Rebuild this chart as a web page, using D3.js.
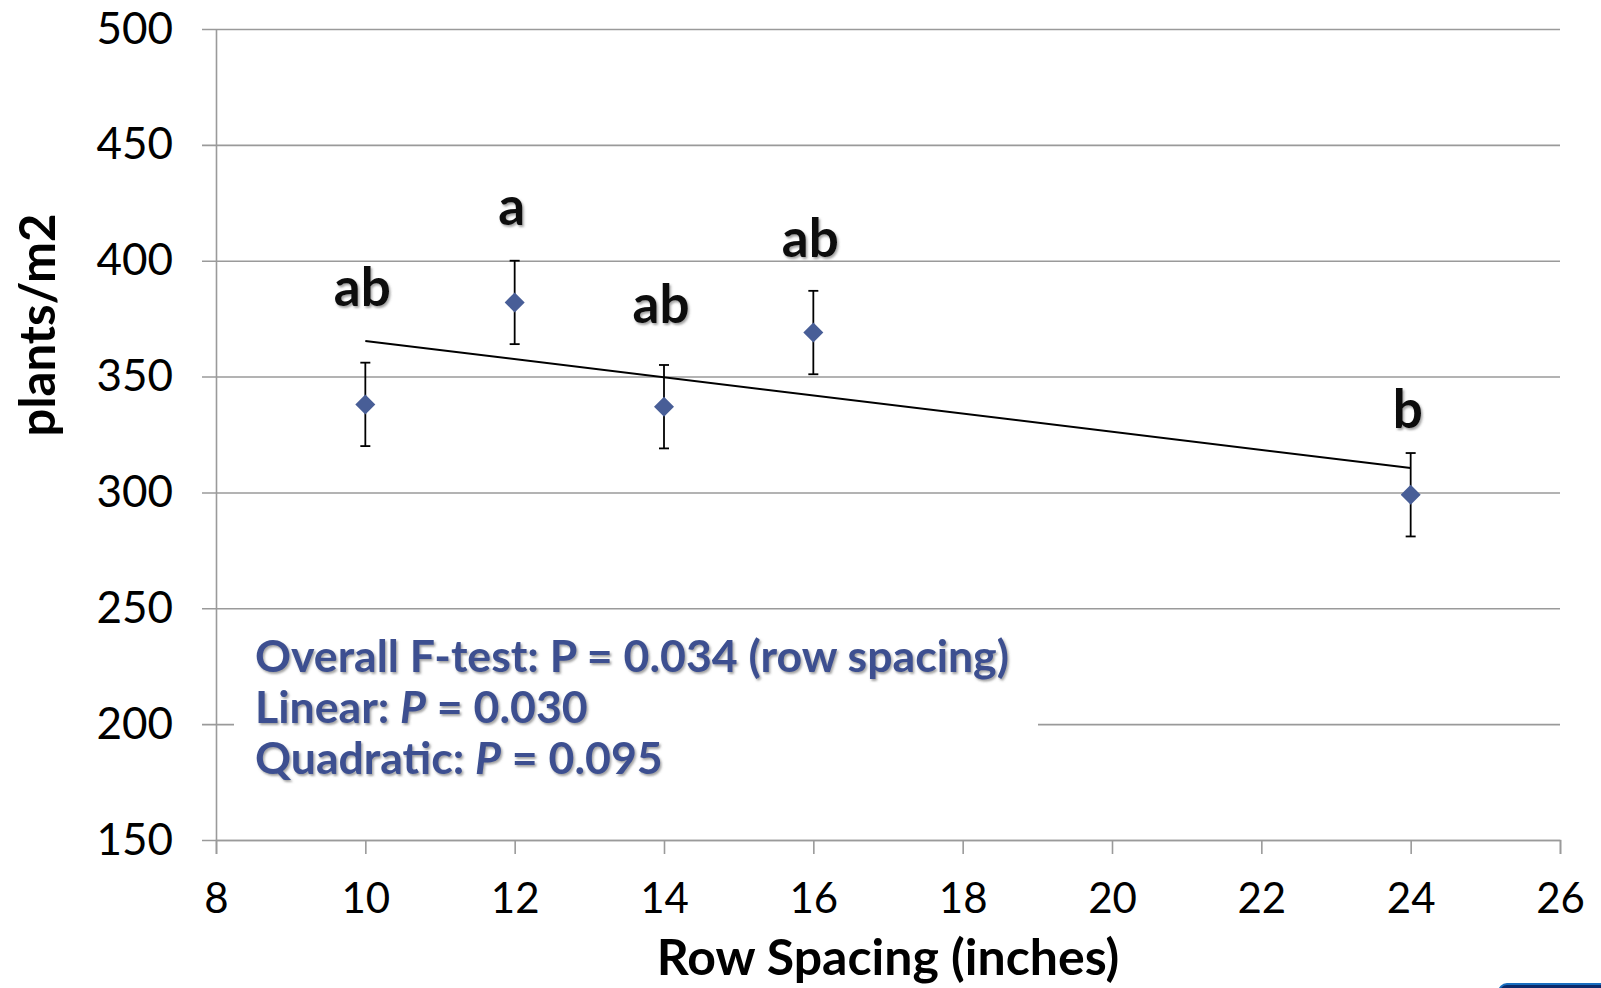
<!DOCTYPE html>
<html>
<head>
<meta charset="utf-8">
<script src="https://cdn.jsdelivr.net/npm/d3@7"></script>
<style>
  html, body { margin: 0; padding: 0; background: #fff; }
  svg { display: block; font-family: Lato, "Open Sans", sans-serif; }
</style>
</head>
<body>
<svg width="1601" height="988"></svg>
<script>
// Row spacing (inches) and plant density means
const spacing = [10, 12, 14, 16, 24];
const plants = [338, 382, 337, 369, 299];
const stdErr = [18, 18, 18, 18, 18];
const letters = ['ab', 'a', 'ab', 'ab', 'b'];
// baseline of each letter label, in plants/m2 units
const letterY = [380.5, 415.5, 373, 401.5, 328];

const xTicks = [8, 10, 12, 14, 16, 18, 20, 22, 24, 26];
const yTicks = [150, 200, 250, 300, 350, 400, 450, 500];

const statLines = [
  [{ t: 'Overall F-test: P = 0.034 (row spacing)' }],
  [{ t: 'Linear: ' }, { t: 'P', it: true }, { t: ' = 0.030' }],
  [{ t: 'Quadratic: ' }, { t: 'P', it: true }, { t: ' = 0.095' }]
];

const svg = d3.select('svg');
const gridColor = '#9a9a9a';
const markColor = '#485e97';
const statColor = '#3c5090';

const x = d3.scaleLinear().domain([8, 26]).range([216, 1560]);
const y = d3.scaleLinear().domain([150, 500]).range([840, 29]);

// drop shadow used by the letters and the stats text
const defs = svg.append('defs');
defs.append('filter').attr('id', 'shadow')
  .attr('x', '-10%').attr('y', '-20%').attr('width', '130%').attr('height', '150%')
  .append('feDropShadow')
  .attr('dx', 1.5).attr('dy', 2).attr('stdDeviation', 1.2)
  .attr('flood-color', '#555').attr('flood-opacity', 0.55);

// horizontal gridlines (run a bit left of the axis, like the ticks)
svg.append('g')
  .attr('transform', `translate(${x(26)},0)`)
  .call(d3.axisLeft(y).tickValues(yTicks).tickSize(x(26) - 202).tickFormat(''))
  .call(g => g.select('.domain').remove())
  .call(g => g.selectAll('line').attr('stroke', gridColor).attr('stroke-width', 1.6));

// y axis line + labels
svg.append('g')
  .attr('transform', `translate(${x(8)},0)`)
  .call(d3.axisLeft(y).tickValues(yTicks).tickSize(0).tickPadding(43))
  .call(g => g.select('.domain').attr('stroke', gridColor).attr('stroke-width', 1.6))
  .call(g => g.selectAll('text').attr('font-size', 44).attr('fill', '#000')
    .attr('font-family', 'Lato, sans-serif'));

// x axis
svg.append('g')
  .attr('transform', `translate(0,${y(150)})`)
  .call(d3.axisBottom(x).tickValues(xTicks).tickSize(14).tickPadding(29).tickSizeOuter(14))
  .call(g => g.select('.domain').attr('stroke', gridColor).attr('stroke-width', 1.6))
  .call(g => g.selectAll('line').attr('stroke', gridColor).attr('stroke-width', 1.6))
  .call(g => g.selectAll('text').attr('font-size', 42).attr('fill', '#000')
    .attr('font-family', 'Lato, sans-serif'));

// axis titles
svg.append('text')
  .attr('x', 888).attr('y', 975)
  .attr('text-anchor', 'middle')
  .attr('font-size', 50).attr('font-weight', 'bold')
  .text('Row Spacing (inches)');

svg.append('text')
  .attr('transform', 'translate(55,325) rotate(-90)')
  .attr('text-anchor', 'middle')
  .attr('font-size', 49).attr('font-weight', 'bold')
  .text('plants/m2');

// stats text box, white background hides the 200 gridline
svg.append('rect')
  .attr('x', 234).attr('y', 622).attr('width', 804).attr('height', 172)
  .attr('fill', '#fff');

const stats = svg.append('g').attr('filter', 'url(#shadow)');
statLines.forEach((parts, i) => {
  const t = stats.append('text')
    .attr('x', 255).attr('y', 672 + i * 51)
    .attr('font-size', 39).attr('font-weight', 'bold')
    .attr('fill', statColor);
  parts.forEach(p => t.append('tspan')
    .attr('font-style', p.it ? 'italic' : 'normal')
    .text(p.t));
});
// fit first line to the reference width
const first = stats.select('text').node();
const w0 = first.getComputedTextLength();
stats.selectAll('text').attr('font-size', 39 * 754 / w0);

// linear trendline (least squares through the means)
const mx = d3.mean(spacing), my = d3.mean(plants);
const slope = d3.sum(spacing, (s, i) => (s - mx) * (plants[i] - my)) /
  d3.sum(spacing, s => (s - mx) * (s - mx));
const trend = [d3.min(spacing), d3.max(spacing)].map(s => [s, my + slope * (s - mx)]);
svg.append('path')
  .attr('d', d3.line().x(d => x(d[0])).y(d => y(d[1]))(trend))
  .attr('fill', 'none').attr('stroke', '#000').attr('stroke-width', 2);

// error bars
const pts = spacing.map((s, i) => ({ s, v: plants[i], e: stdErr[i], l: letters[i], ly: letterY[i] }));
const err = svg.append('g').attr('stroke', '#000').attr('stroke-width', 1.8);
err.selectAll('.bar').data(pts).enter().append('line')
  .attr('x1', d => x(d.s)).attr('x2', d => x(d.s))
  .attr('y1', d => y(d.v + d.e)).attr('y2', d => y(d.v - d.e));
err.selectAll('.capTop').data(pts).enter().append('line')
  .attr('x1', d => x(d.s) - 5).attr('x2', d => x(d.s) + 5)
  .attr('y1', d => y(d.v + d.e)).attr('y2', d => y(d.v + d.e));
err.selectAll('.capBot').data(pts).enter().append('line')
  .attr('x1', d => x(d.s) - 5).attr('x2', d => x(d.s) + 5)
  .attr('y1', d => y(d.v - d.e)).attr('y2', d => y(d.v - d.e));

// diamond markers
svg.selectAll('.pt').data(pts).enter().append('path')
  .attr('transform', d => `translate(${x(d.s)},${y(d.v)})`)
  .attr('d', 'M0,-10L10,0L0,10L-10,0Z')
  .attr('fill', markColor);

// significance letters
svg.append('g').attr('filter', 'url(#shadow)')
  .selectAll('text').data(pts).enter().append('text')
  .attr('x', d => x(d.s) - 3).attr('y', d => y(d.ly))
  .attr('text-anchor', 'middle')
  .attr('font-size', 53).attr('font-weight', 'bold')
  .attr('fill', '#111')
  .text(d => d.l);

// corner artifact at the bottom right
svg.append('rect')
  .attr('x', 1499).attr('y', 984).attr('width', 140).attr('height', 30).attr('rx', 8)
  .attr('fill', '#0b2a6b').attr('stroke', '#1a6fc0').attr('stroke-width', 2);
</script>
</body>
</html>
